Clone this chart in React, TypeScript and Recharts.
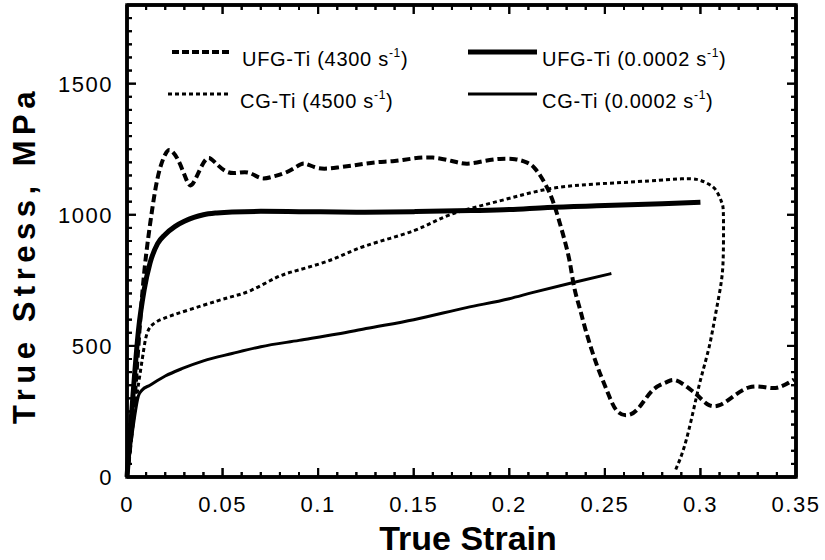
import React from "react";
import { LineChart, Line, XAxis, YAxis } from "recharts";

// strain / stress
const ufgDynamic = [
  [0, 0], [0.004, 300], [0.008, 700], [0.012, 960], [0.016, 1140], [0.02, 1230], [0.023, 1245],
  [0.027, 1205], [0.031, 1135], [0.034, 1115], [0.038, 1170], [0.042, 1215], [0.046, 1200],
  [0.052, 1165], [0.058, 1160], [0.064, 1160], [0.07, 1140], [0.076, 1145], [0.082, 1158],
  [0.088, 1180], [0.093, 1195], [0.1, 1178], [0.11, 1180], [0.12, 1190], [0.13, 1200],
  [0.14, 1205], [0.15, 1215], [0.16, 1218], [0.17, 1205], [0.178, 1195], [0.187, 1205],
  [0.195, 1213], [0.203, 1212], [0.209, 1200], [0.213, 1180], [0.217, 1140], [0.221, 1085],
  [0.2245, 1015], [0.228, 928], [0.2315, 825], [0.234, 722], [0.237, 640], [0.24, 559],
  [0.2455, 433], [0.251, 331], [0.256, 255], [0.262, 236], [0.268, 266], [0.275, 331],
  [0.282, 361], [0.287, 369], [0.294, 338], [0.2995, 304], [0.3045, 274], [0.31, 274],
  [0.3165, 304], [0.3255, 342], [0.334, 342], [0.341, 342], [0.349, 372],
];

const ufgQuasi = [
  [0, 0], [0.003, 300], [0.006, 560], [0.009, 715], [0.012, 815], [0.016, 890], [0.02, 925],
  [0.025, 955], [0.03, 975], [0.035, 990], [0.04, 1000], [0.047, 1007], [0.055, 1011],
  [0.07, 1013], [0.09, 1012], [0.12, 1010], [0.15, 1012], [0.18, 1016], [0.2, 1020],
  [0.22, 1028], [0.25, 1035], [0.28, 1042], [0.3, 1048],
];

const cgDynamic = [
  [0, 0], [0.004, 250], [0.008, 450], [0.0105, 548], [0.015, 590], [0.025, 620], [0.04, 655],
  [0.053, 684], [0.065, 712], [0.078, 760], [0.09, 790], [0.1075, 830], [0.125, 882],
  [0.15, 939], [0.169, 1000], [0.195, 1053], [0.221, 1099], [0.247, 1118], [0.273, 1129],
  [0.29, 1137], [0.298, 1135], [0.303, 1122], [0.308, 1095], [0.311, 1050], [0.312, 1004],
  [0.312, 863], [0.311, 749], [0.308, 624], [0.3045, 494], [0.3, 369], [0.296, 243],
  [0.2915, 114], [0.287, 27],
];

const cgQuasi = [
  [0, 0], [0.003, 180], [0.006, 310], [0.0078, 331], [0.012, 350], [0.02, 385], [0.029, 414],
  [0.04, 443], [0.055, 471], [0.07, 497], [0.09, 521], [0.11, 545], [0.125, 566], [0.15, 600],
  [0.1776, 646], [0.2, 680], [0.212, 703], [0.233, 741], [0.2534, 776],
];

const strainMajor = [0, 0.05, 0.1, 0.15, 0.2, 0.25, 0.3, 0.35];
const strainLabels = ["0", "0.05", "0.1", "0.15", "0.2", "0.25", "0.3", "0.35"];
const stressMajor = [0, 500, 1000, 1500];
const strainTicks = Array.from({ length: 36 }, (_, i) => +(i * 0.01).toFixed(2));
const stressTicks = Array.from({ length: 37 }, (_, i) => i * 50);

const toPts = (arr: number[][], key: string) => arr.map(([strain, v]) => ({ strain, [key]: v }));

const FONT = "'Liberation Sans', Arial, Helvetica, sans-serif";
const majorIdx = (v: number) => strainMajor.findIndex((m) => Math.abs(m - v) < 1e-6);
const isMajorY = (v: number) => stressMajor.includes(v);

// plot box (chart margins + axis sizes below), used for the frame overlay
const PLOT = { left: 127, right: 796, top: 5, bottom: 477 };
const frameX = (v: number) => PLOT.left + (v / 0.35) * (PLOT.right - PLOT.left);
const frameY = (v: number) => PLOT.bottom - (v / 1800) * (PLOT.bottom - PLOT.top);

// tick props: x/y sit on the axis line because tickSize and tickMargin are 0
const bottomTick = (p: any) => {
  const i = majorIdx(p.payload.value);
  return (
    <g>
      <line x1={p.x} x2={p.x} y1={p.y} y2={p.y - (i >= 0 ? 9 : 5)} stroke="#000" strokeWidth={2} />
      {i >= 0 && (
        <text x={p.x} y={p.y + 35} textAnchor="middle" fontFamily={FONT} fontSize={22} letterSpacing={1.5} fill="#000">
          {strainLabels[i]}
        </text>
      )}
    </g>
  );
};

const topTick = (p: any) => (
  <line x1={p.x} x2={p.x} y1={p.y} y2={p.y + (majorIdx(p.payload.value) >= 0 ? 9 : 5)} stroke="#000" strokeWidth={2} />
);

const leftTick = (p: any) => {
  const major = isMajorY(p.payload.value);
  return (
    <g>
      <line x1={p.x} x2={p.x + (major ? 9 : 5)} y1={p.y} y2={p.y} stroke="#000" strokeWidth={2} />
      {major && (
        <text x={p.x - 14} y={p.y + 8} textAnchor="end" fontFamily={FONT} fontSize={22} letterSpacing={1.5} fill="#000">
          {p.payload.value}
        </text>
      )}
    </g>
  );
};

const rightTick = (p: any) => (
  <line x1={p.x} x2={p.x - (isMajorY(p.payload.value) ? 9 : 5)} y1={p.y} y2={p.y} stroke="#000" strokeWidth={2} />
);

const legendItems = [
  { name: "UFG-Ti (4300 s", line: { x1: 172, x2: 230, y: 52, w: 4, dash: "7 3" }, tx: 242, ty: 66 },
  { name: "UFG-Ti (0.0002 s", line: { x1: 468, x2: 537, y: 52, w: 5, dash: "" }, tx: 542, ty: 66 },
  { name: "CG-Ti (4500 s", line: { x1: 168, x2: 230, y: 94, w: 3, dash: "4 3" }, tx: 240, ty: 108 },
  { name: "CG-Ti (0.0002 s", line: { x1: 468, x2: 537, y: 94, w: 3, dash: "" }, tx: 542, ty: 108 },
];

export default function App() {
  return (
    <div style={{ position: "absolute", left: 0, top: 0, width: 825, height: 560, background: "#fff" }}>
      <LineChart width={825} height={560} margin={{ top: 4, right: 28, bottom: 0, left: 0 }}>
        <XAxis xAxisId="b" dataKey="strain" type="number" domain={[0, 0.35]} ticks={strainTicks} interval={0}
          tick={bottomTick} tickLine={false} tickSize={0} tickMargin={0}
          axisLine={{ stroke: "#000", strokeWidth: 3.5 }} height={83} />
        <XAxis xAxisId="t" dataKey="strain" orientation="top" type="number" domain={[0, 0.35]} ticks={strainTicks} interval={0}
          tick={topTick} tickLine={false} tickSize={0} tickMargin={0}
          axisLine={{ stroke: "#000", strokeWidth: 3.5 }} height={1} />
        <YAxis yAxisId="l" type="number" domain={[0, 1800]} ticks={stressTicks} interval={0}
          tick={leftTick} tickLine={false} tickSize={0} tickMargin={0}
          axisLine={{ stroke: "#000", strokeWidth: 3.5 }} width={127} />
        <YAxis yAxisId="r" orientation="right" type="number" domain={[0, 1800]} ticks={stressTicks} interval={0}
          tick={rightTick} tickLine={false} tickSize={0} tickMargin={0}
          axisLine={{ stroke: "#000", strokeWidth: 3.5 }} width={1} />
        <Line xAxisId="b" yAxisId="l" data={toPts(cgQuasi, "cgQuasi")} dataKey="cgQuasi" type="monotone"
          stroke="#000" strokeWidth={3} dot={false} isAnimationActive={false} />
        <Line xAxisId="t" yAxisId="r" data={toPts(ufgQuasi, "ufgQuasi")} dataKey="ufgQuasi" type="monotone"
          stroke="#000" strokeWidth={5} dot={false} isAnimationActive={false} />
        <Line xAxisId="t" yAxisId="r" data={toPts(cgDynamic, "cgDynamic")} dataKey="cgDynamic" type="natural"
          stroke="#000" strokeWidth={3} strokeDasharray="4 3" dot={false} isAnimationActive={false} />
        <Line xAxisId="b" yAxisId="l" data={toPts(ufgDynamic, "ufgDynamic")} dataKey="ufgDynamic" type="natural"
          stroke="#000" strokeWidth={4} strokeDasharray="8 4" dot={false} isAnimationActive={false} />
      </LineChart>
      <svg width={825} height={560} style={{ position: "absolute", left: 0, top: 0, pointerEvents: "none" }}>
        {/* frame and inward ticks on all four sides */}
        <rect
          x={PLOT.left}
          y={PLOT.top}
          width={PLOT.right - PLOT.left}
          height={PLOT.bottom - PLOT.top}
          fill="none"
          stroke="#000"
          strokeWidth={3.5}
        />
        {strainTicks.map((v) => {
          const len = majorIdx(v) >= 0 ? 9 : 5;
          const x = frameX(v);
          return (
            <g key={`x${v}`}>
              <line x1={x} x2={x} y1={PLOT.bottom} y2={PLOT.bottom - len} stroke="#000" strokeWidth={2} />
              <line x1={x} x2={x} y1={PLOT.top} y2={PLOT.top + len} stroke="#000" strokeWidth={2} />
            </g>
          );
        })}
        {stressTicks.map((v) => {
          const len = isMajorY(v) ? 9 : 5;
          const y = frameY(v);
          return (
            <g key={`y${v}`}>
              <line x1={PLOT.left} x2={PLOT.left + len} y1={y} y2={y} stroke="#000" strokeWidth={2} />
              <line x1={PLOT.right} x2={PLOT.right - len} y1={y} y2={y} stroke="#000" strokeWidth={2} />
            </g>
          );
        })}
        <text x={468} y={550} textAnchor="middle" fontFamily={FONT} fontWeight="bold" fontSize={34} fill="#000">
          True Strain
        </text>
        <text
          x={24}
          y={255}
          transform="rotate(-90 24 255)"
          textAnchor="middle"
          dominantBaseline="central"
          fontFamily={FONT}
          fontWeight="bold"
          fontSize={31}
          letterSpacing={5.5}
          fill="#000"
        >
          True Stress, MPa
        </text>
        {legendItems.map((it) => (
          <g key={it.name}>
            <line
              x1={it.line.x1}
              x2={it.line.x2}
              y1={it.line.y}
              y2={it.line.y}
              stroke="#000"
              strokeWidth={it.line.w}
              strokeDasharray={it.line.dash || undefined}
            />
            <text x={it.tx} y={it.ty} fontFamily={FONT} fontSize={20} letterSpacing={0.7} fill="#000">
              {it.name}
              <tspan fontSize={12} dy={-9}>-1</tspan>
              <tspan dy={9}>)</tspan>
            </text>
          </g>
        ))}
      </svg>
    </div>
  );
}
